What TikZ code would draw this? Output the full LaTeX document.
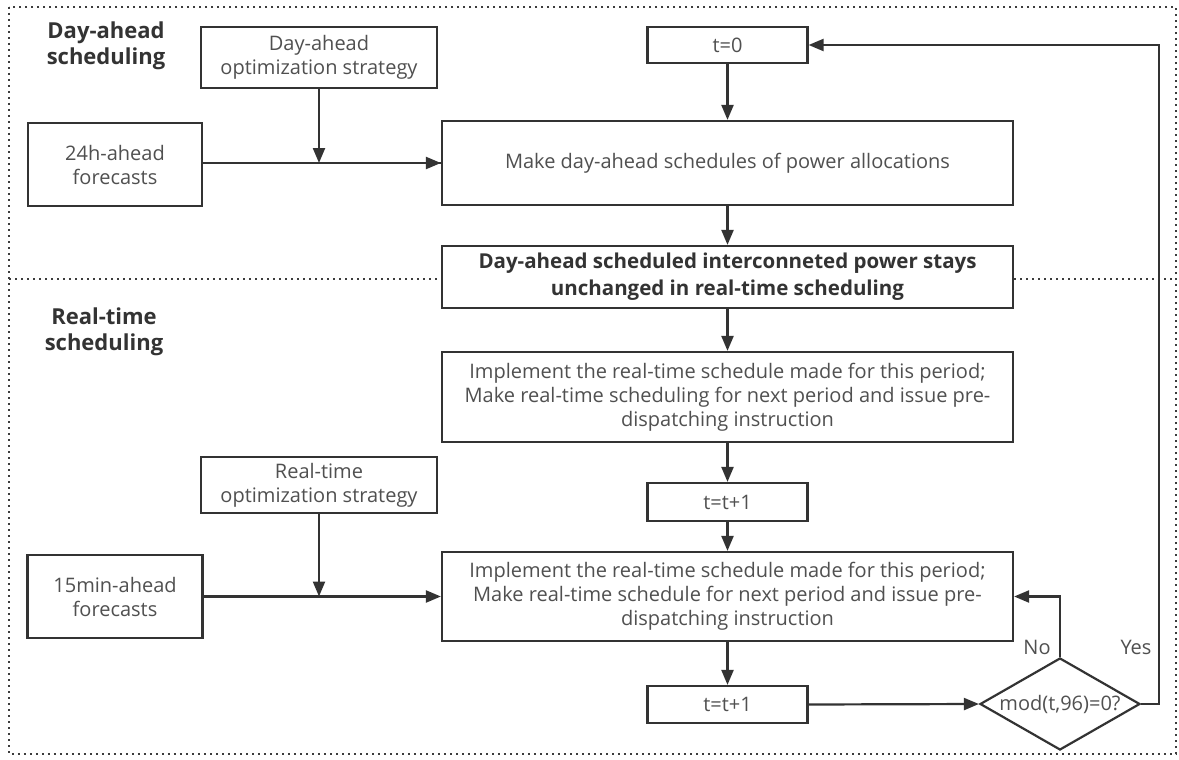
\documentclass[tikz,border=0pt]{standalone}
\usepackage{fontspec}
\setmainfont{Open Sans}
\usetikzlibrary{arrows.meta,shapes.geometric}
\definecolor{linec}{RGB}{51,51,51}
\definecolor{txtc}{RGB}{80,80,80}
\definecolor{boldc}{RGB}{51,51,51}
\definecolor{dotc}{RGB}{60,60,60}
\tikzset{
  box/.style={draw=linec, line width=2.2pt, inner sep=0pt, align=center, text=txtc,
    font=\fontsize{20}{24}\selectfont, fill=white},
  boldbox/.style={box, text=boldc, font=\fontsize{20.5}{27}\selectfont\bfseries},
  arr/.style={draw=linec, line width=2.2pt, -{Triangle[length=15pt,width=12pt]}},
  conn/.style={draw=linec, line width=2.2pt},
  dotline/.style={draw=dotc, line width=2pt, dash pattern=on 2pt off 4pt},
  grouplbl/.style={align=center, text=boldc, font=\fontsize{22}{26}\selectfont\bfseries},
  brlbl/.style={text=txtc, font=\fontsize{20}{24}\selectfont, inner sep=0pt}
}
\begin{document}
\begin{tikzpicture}[x=1pt,y=-1pt]
\useasboundingbox (0,0) rectangle (1179,760);
\fill[white] (0,0) rectangle (1179,760);
% outer dotted frame
\draw[dotline] (9,7) rectangle (1176,754);

% nodes
\node[box, minimum width=236, minimum height=61] (strat1) at (319,57.5) {Day-ahead\\optimization strategy};
\node[box, minimum width=174, minimum height=83] (fc24) at (115,164.5) {24h-ahead\\forecasts};
\node[box, minimum width=160, minimum height=36] (t0) at (727.5,45) {t=0};
\node[box, minimum width=571, minimum height=84] (make) at (727.5,163) {Make day-ahead schedules of power allocations};
\node[boldbox, minimum width=571, minimum height=62] (bold) at (727.5,277) {Day-ahead scheduled interconneted power stays\\unchanged in real-time scheduling};
\node[box, minimum width=571, minimum height=90] (impl1) at (727.5,397) {Implement the real-time schedule made for this period;\\Make real-time scheduling for next period and issue pre-\\dispatching instruction};
\node[box, minimum width=236, minimum height=56] (strat2) at (319,485) {Real-time\\optimization strategy};
\node[box, minimum width=160, minimum height=38] (tt1) at (727.5,502) {t=t+1};
\node[box, minimum width=175, minimum height=83] (fc15) at (115,596.5) {15min-ahead\\forecasts};
\node[box, minimum width=571, minimum height=89] (impl2) at (727.5,596.5) {Implement the real-time schedule made for this period;\\Make real-time schedule for next period and issue pre-\\dispatching instruction};
\node[box, minimum width=160, minimum height=37] (tt2) at (727.5,704.5) {t=t+1};
\node[box, shape=diamond, minimum width=160, minimum height=92] (dia) at (1060,704) {\makebox[0pt][c]{mod(t,96)=0?}};

% group labels
\node[grouplbl] (lblday) at (106,46) {Day-ahead\\scheduling};
\node[grouplbl] (lblrt) at (104,332) {Real-time\\scheduling};

% separator
\draw[dotline] (9,279) -- (bold.west |- 0,279);
\draw[dotline] (bold.east |- 0,279) -- (1176,279);

% connectors
\coordinate (j1) at (strat1.south |- make.west);
\draw[conn] (fc24.east |- make.west) -- (make.west);
\draw[arr] (j1) -- (make.west);
\draw[arr] (strat1.south) -- (j1);
\draw[arr] (t0.south) -- (make.north);
\draw[arr] (make.south) -- (bold.north);
\draw[arr] (bold.south) -- (impl1.north);
\draw[arr] (impl1.south) -- (tt1.north);
\draw[arr] (tt1.south) -- (impl2.north);
\coordinate (j2) at (strat2.south |- impl2.west);
\draw[conn] (fc15.east |- impl2.west) -- (j2);
\draw[arr] (j2) -- (impl2.west);
\draw[arr] (strat2.south) -- (j2);
\draw[arr] (impl2.south) -- (tt2.north);
\draw[arr] (tt2.east) -- (dia.west);
\draw[arr] (dia.north) |- (impl2.east);
\coordinate (yc) at (1159,704);
\draw[arr] (dia.east) -- (yc) |- (t0.east);

% branch labels
\node[brlbl] (no) at (1037,647) {No};
\node[brlbl] (yes) at (1136,647) {Yes};
\end{tikzpicture}
\end{document}
